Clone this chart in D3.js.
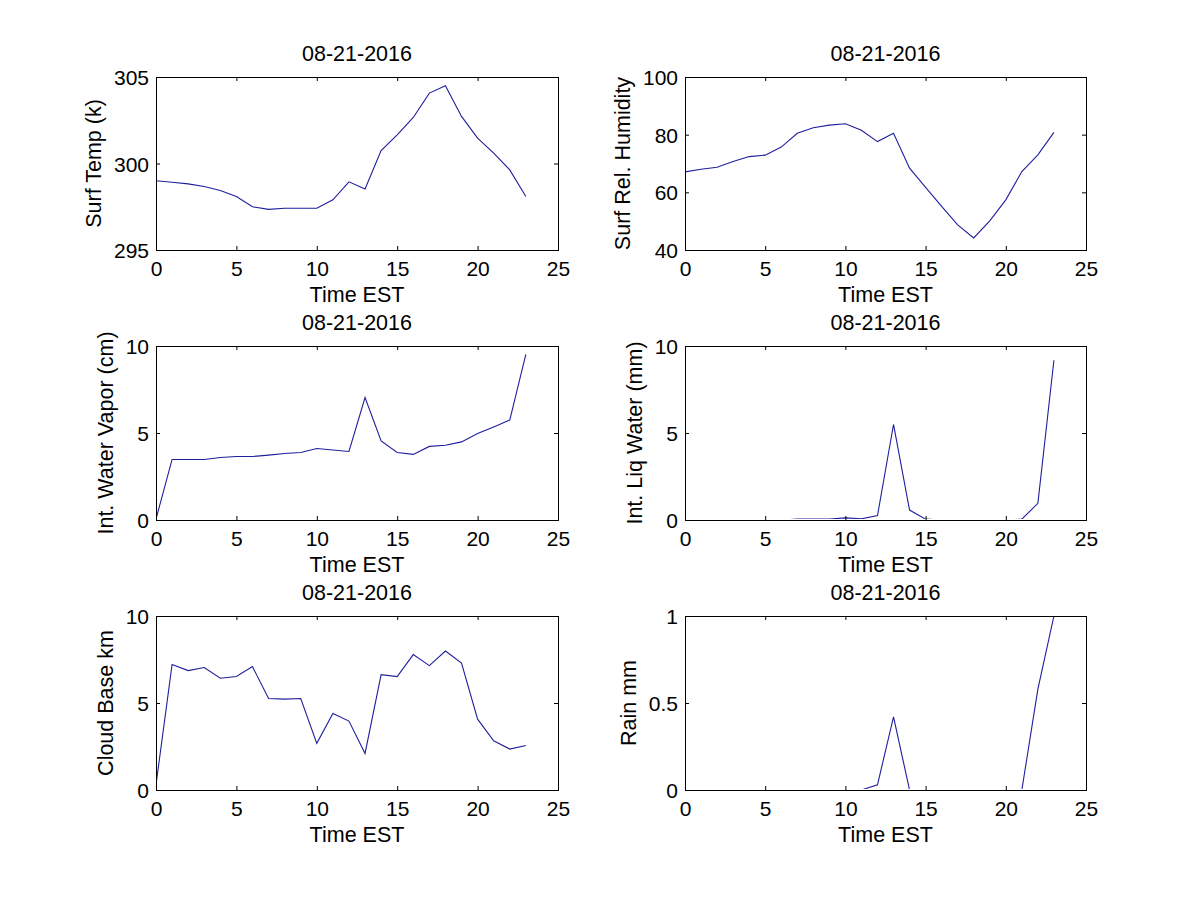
<!DOCTYPE html>
<html>
<head>
<meta charset="utf-8">
<script src="https://cdn.jsdelivr.net/npm/d3@7"></script>
<style>
  html, body { margin: 0; padding: 0; background: #fff; }
  svg { display: block; }
  text { font-family: "Liberation Sans", Arial, Helvetica, sans-serif; fill: #000; }
</style>
</head>
<body>
<svg id="chart" width="1200" height="900"></svg>
<script>
const hours = [0,1,2,3,4,5,6,7,8,9,10,11,12,13,14,15,16,17,18,19,20,21,22,23];
const surfTemp = [299.0,298.92,298.82,298.67,298.44,298.09,297.5,297.35,297.41,297.41,297.41,297.9,298.94,298.53,300.75,301.66,302.66,304.07,304.5,302.72,301.47,300.6,299.63,298.09];
const surfRH = [67.1,68.0,68.7,70.7,72.4,72.9,75.7,80.5,82.4,83.3,83.8,81.5,77.6,80.5,68.4,61.7,55.1,48.7,44.2,50.1,57.4,67.2,73.0,80.8];
const waterVapor = [0.05,3.48,3.48,3.48,3.59,3.65,3.65,3.73,3.82,3.88,4.11,4.02,3.94,7.04,4.55,3.88,3.77,4.23,4.30,4.49,4.97,5.35,5.74,9.52];
const liqWater = [0,0,0,0,0,0,0,0.05,0.05,0.05,0.12,0.07,0.25,5.49,0.57,0.05,0,0,0,0,0,0.05,0.96,9.18];
const cloudBase = [0.3,7.21,6.86,7.04,6.42,6.52,7.09,5.26,5.22,5.26,2.68,4.40,3.96,2.10,6.63,6.52,7.78,7.15,7.99,7.30,4.07,2.83,2.35,2.56];
const rain = [0,0,0,0,0,0,0,0,0,0,0,0,0.03,0.42,0,0,0,0,0,0,0,0,0.58,1.0];

const panelTitle = "08-21-2016";
const xLabel = "Time EST";
const xTicks = [0,5,10,15,20,25];

const panels = [
  { values: surfTemp,   yLabel: "Surf Temp (k)",          yDomain: [295,305], yTicks: [295,300,305], col: 0, row: 0 },
  { values: surfRH,     yLabel: "Surf Rel. Humidity",     yDomain: [40,100],  yTicks: [40,60,80,100], col: 1, row: 0 },
  { values: waterVapor, yLabel: "Int. Water Vapor (cm)",  yDomain: [0,10],    yTicks: [0,5,10], col: 0, row: 1 },
  { values: liqWater,   yLabel: "Int. Liq Water (mm)",    yDomain: [0,10],    yTicks: [0,5,10], col: 1, row: 1 },
  { values: cloudBase,  yLabel: "Cloud Base km",          yDomain: [0,10],    yTicks: [0,5,10], col: 0, row: 2 },
  { values: rain,       yLabel: "Rain mm",                yDomain: [0,1],     yTicks: [0,0.5,1], col: 1, row: 2 }
];

const colX = [[156,558],[685,1086]];
const rowY = [[77,250],[346,520],[616,790]];
const FS_TICK = 21;
const FS_LABEL = 21.5;
const lineColor = "#1f1f9e";

const svg = d3.select("#chart");

panels.forEach((p, i) => {
  const [x0, x1] = colX[p.col];
  const [y0, y1] = rowY[p.row];
  const x = d3.scaleLinear().domain([0,25]).range([x0, x1]);
  const y = d3.scaleLinear().domain(p.yDomain).range([y1, y0]);
  const g = svg.append("g");

  // the axis box hides anything lying exactly on it
  g.append("clipPath").attr("id", "clip" + i)
    .append("rect").attr("x", x0).attr("y", y0).attr("width", x1 - x0).attr("height", y1 - y0 - 1);

  const line = d3.line().x((d, k) => x(hours[k])).y(d => y(d));
  g.append("path")
    .datum(p.values)
    .attr("clip-path", "url(#clip" + i + ")")
    .attr("fill", "none")
    .attr("stroke", lineColor)
    .attr("stroke-width", 1.1)
    .attr("d", line);

  const bottom = g.append("g").attr("transform", `translate(0,${y1})`)
    .call(d3.axisBottom(x).tickValues(xTicks).tickSizeInner(-4).tickSizeOuter(0).tickFormat(d3.format("d")));
  bottom.selectAll("text").attr("y", 26).attr("dy", 0).style("font-size", FS_TICK + "px");
  g.append("g").attr("transform", `translate(0,${y0})`)
    .call(d3.axisTop(x).tickValues(xTicks).tickSizeInner(-4).tickSizeOuter(0).tickFormat(""));
  const fmt = v => (Math.abs(v - Math.round(v)) < 1e-9 ? d3.format("d")(v) : d3.format(".1f")(v));
  const left = g.append("g").attr("transform", `translate(${x0},0)`)
    .call(d3.axisLeft(y).tickValues(p.yTicks).tickSizeInner(-4).tickSizeOuter(0).tickFormat(fmt));
  left.selectAll("text").attr("x", -7).attr("dy", "0.36em").style("font-size", FS_TICK + "px");
  g.append("g").attr("transform", `translate(${x1},0)`)
    .call(d3.axisRight(y).tickValues(p.yTicks).tickSizeInner(-4).tickSizeOuter(0).tickFormat(""));
  g.selectAll(".domain").remove();
  g.selectAll(".tick line").attr("stroke", "#000");

  g.append("rect")
    .attr("x", x0).attr("y", y0).attr("width", x1 - x0).attr("height", y1 - y0)
    .attr("fill", "none").attr("stroke", "#000").attr("stroke-width", 1)
    .attr("shape-rendering", "crispEdges");

  let maxW = 0;
  left.selectAll("text").each(function () { maxW = Math.max(maxW, this.getComputedTextLength()); });

  const cx = (x0 + x1) / 2;
  g.append("text").attr("x", cx).attr("y", y0 - 16).attr("text-anchor", "middle")
    .style("font-size", FS_LABEL + "px").text(panelTitle);
  g.append("text").attr("x", cx).attr("y", y1 + 52).attr("text-anchor", "middle")
    .style("font-size", FS_LABEL + "px").text(xLabel);
  const lx = x0 - 20 - maxW;
  const ly = (y0 + y1) / 2;
  g.append("text").attr("transform", `translate(${lx},${ly}) rotate(-90)`)
    .attr("text-anchor", "middle").style("font-size", FS_LABEL + "px").text(p.yLabel);
});
</script>
</body>
</html>
